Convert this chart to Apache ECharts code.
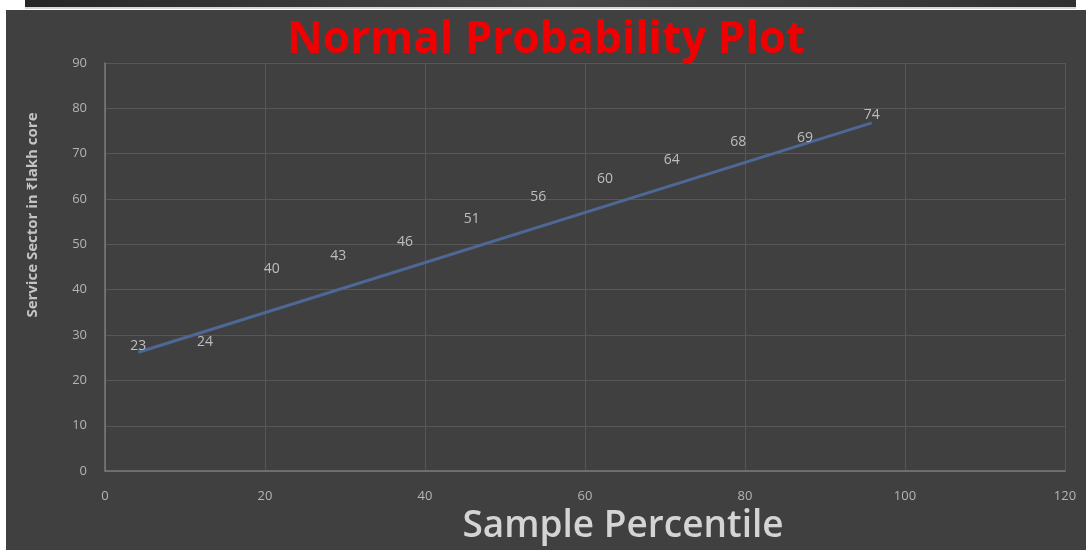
<!DOCTYPE html>
<html>
<head>
<meta charset="utf-8">
<script src="https://cdn.jsdelivr.net/npm/echarts@6/dist/echarts.min.js"></script>
<style>
  html, body { margin: 0; padding: 0; background: #ffffff; width: 1086px; height: 550px; overflow: hidden; }
  #strip { position: absolute; left: 25px; top: 0; width: 1051px; height: 7px;
           background: linear-gradient(to right, #262626, #4a4a4a 50%, #303030); }
  #line { position: absolute; left: 25px; top: 7px; width: 1051px; height: 2px; background: #d8d8d8; }
  #chart { position: absolute; left: 6px; top: 10px; width: 1080px; height: 540px; }
</style>
</head>
<body>
<div id="strip"></div>
<div id="line"></div>
<div id="chart"></div>
<script>
// Data
const percentiles = [4.17, 12.5, 20.83, 29.17, 37.5, 45.83, 54.17, 62.5, 70.83, 79.17, 87.5, 95.83];
const sectorValues = [23, 24, 40, 43, 46, 51, 56, 60, 64, 68, 69, 74];
const trendX = [4.17, 95.83];
const trendY = [26.2, 76.8];
const xRange = [0, 120, 20];
const yRange = [0, 90, 10];
const titleText = 'Normal Probability Plot';
const xName = 'Sample Percentile';
const yName = 'Service Sector in \u20B9lakh core';

const chart = echarts.init(document.getElementById('chart'), null, { renderer: 'canvas' });
const FONT = '"Open Sans", "Noto Sans", "DejaVu Sans", sans-serif';

const points = percentiles.map((x, i) => [x, sectorValues[i]]);
const trend = trendX.map((x, i) => [x, trendY[i]]);

chart.setOption({
  backgroundColor: '#404040',
  animation: false,
  textStyle: { fontFamily: FONT },
  title: {
    text: titleText,
    left: 'center',
    top: 3,
    textStyle: { color: '#f00000', fontSize: 44, fontWeight: 'bold', fontFamily: FONT }
  },
  grid: { left: 99, right: 21, top: 53, bottom: 78, containLabel: false },
  xAxis: {
    type: 'value',
    min: xRange[0], max: xRange[1], interval: xRange[2],
    name: xName,
    nameLocation: 'middle',
    nameGap: 35,
    nameTextStyle: { color: '#d4d4d4', fontSize: 37, fontWeight: 600, fontFamily: FONT, padding: [0, 0, 0, 76] },
    axisLine: { show: true, lineStyle: { color: '#7a7a7a', width: 1.5 } },
    axisTick: { show: false },
    axisLabel: { color: '#b4b4b4', fontSize: 13, margin: 19, fontFamily: FONT },
    splitLine: { show: true, lineStyle: { color: '#575757', width: 1 } }
  },
  yAxis: {
    type: 'value',
    min: yRange[0], max: yRange[1], interval: yRange[2],
    name: yName,
    nameLocation: 'middle',
    nameRotate: 90,
    nameGap: 65,
    nameTextStyle: { color: '#c4c4c4', fontSize: 15, fontWeight: 'bold', fontFamily: FONT, padding: [0, 0, 0, 104] },
    axisLine: { show: true, lineStyle: { color: '#7a7a7a', width: 1.5 } },
    axisTick: { show: false },
    axisLabel: { color: '#b4b4b4', fontSize: 13, margin: 18, fontFamily: FONT },
    splitLine: { show: true, lineStyle: { color: '#575757', width: 1 } }
  },
  series: [
    {
      name: 'Trend',
      type: 'line',
      data: trend,
      symbol: 'none',
      lineStyle: { color: '#4d6897', width: 3 },
      z: 2
    },
    {
      name: 'Service Sector',
      type: 'scatter',
      data: points,
      symbolSize: 1,
      itemStyle: { color: 'rgba(0,0,0,0)' },
      label: {
        show: true,
        position: 'top',
        distance: 13,
        color: '#dcdcdc',
        fontSize: 14,
        fontFamily: FONT,
        formatter: p => String(p.value[1])
      },
      z: 3
    }
  ]
});
</script>
</body>
</html>
